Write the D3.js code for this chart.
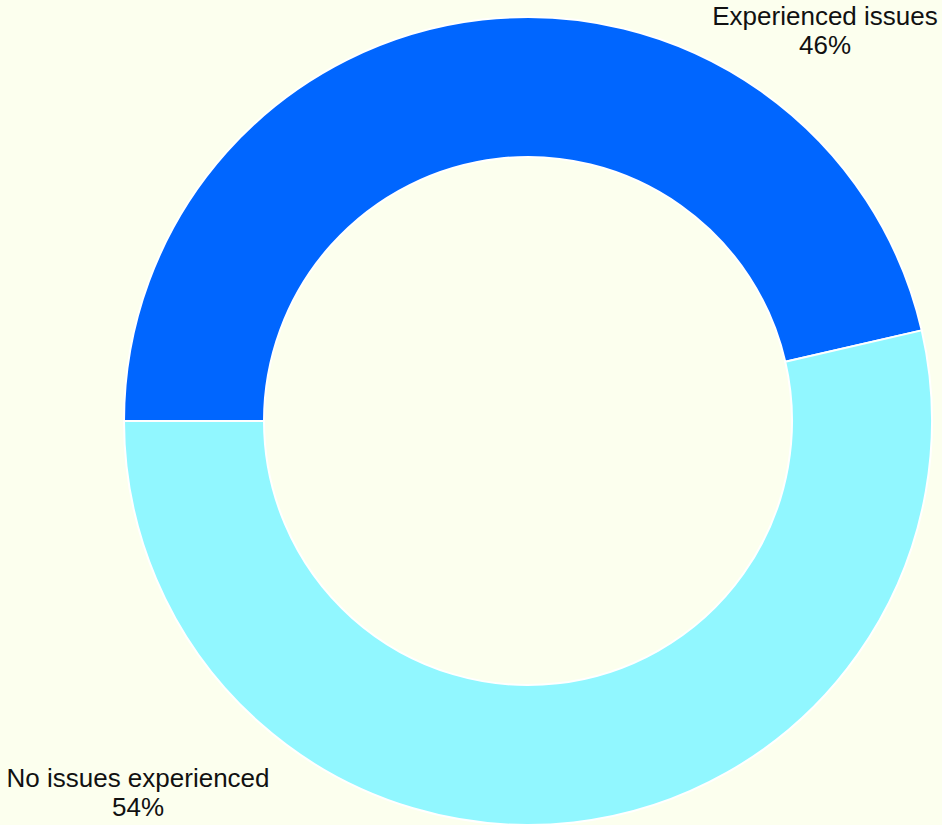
<!DOCTYPE html>
<html>
<head>
<meta charset="utf-8">
<script src="https://cdn.jsdelivr.net/npm/d3@7"></script>
<style>
  html, body { margin: 0; padding: 0; background: #fcffee; }
  #chart { width: 942px; height: 825px; }
</style>
</head>
<body>
<div id="chart"></div>
<script>
// slice data
const categories = ["Experienced issues", "No issues experienced"];
const shares = [46.4, 53.6];
const shownPct = ["46%", "54%"];
const colors = ["#0066ff", "#91f7ff"];

const width = 942, height = 825;
const cx = 528, cy = 421;
const outerR = 404, innerR = 264;

const data = categories.map((c, i) => ({ label: c, value: shares[i], pct: shownPct[i], color: colors[i] }));

const svg = d3.select("#chart")
  .append("svg")
  .attr("width", width)
  .attr("height", height);

svg.append("rect")
  .attr("width", width)
  .attr("height", height)
  .attr("fill", "#fcffee");

const g = svg.append("g")
  .attr("transform", `translate(${cx}, ${cy})`);

const pie = d3.pie()
  .sort(null)
  .startAngle(-Math.PI / 2)
  .endAngle(Math.PI * 1.5)
  .value(d => d.value);

const arc = d3.arc()
  .innerRadius(innerR)
  .outerRadius(outerR);

const arcs = pie(data);

g.append("g")
  .attr("stroke", "white")
  .attr("stroke-width", 2)
  .selectAll("path")
  .data(arcs)
  .enter().append("path")
  .attr("fill", d => d.data.color)
  .attr("d", arc);

// label anchors (page coords)
const labelPos = [[825, 25], [138, 787]];

svg.append("g")
  .attr("font-family", "'Liberation Sans', Arial, sans-serif")
  .attr("font-size", 26)
  .attr("fill", "#111")
  .attr("text-anchor", "middle")
  .selectAll("text")
  .data(arcs)
  .enter().append("text")
  .attr("transform", (d, i) => `translate(${labelPos[i][0]}, ${labelPos[i][1]})`)
  .call(t => t.append("tspan")
    .attr("x", 0)
    .attr("y", 0)
    .text(d => d.data.label))
  .call(t => t.append("tspan")
    .attr("x", 0)
    .attr("y", 29)
    .text(d => d.data.pct));
</script>
</body>
</html>
